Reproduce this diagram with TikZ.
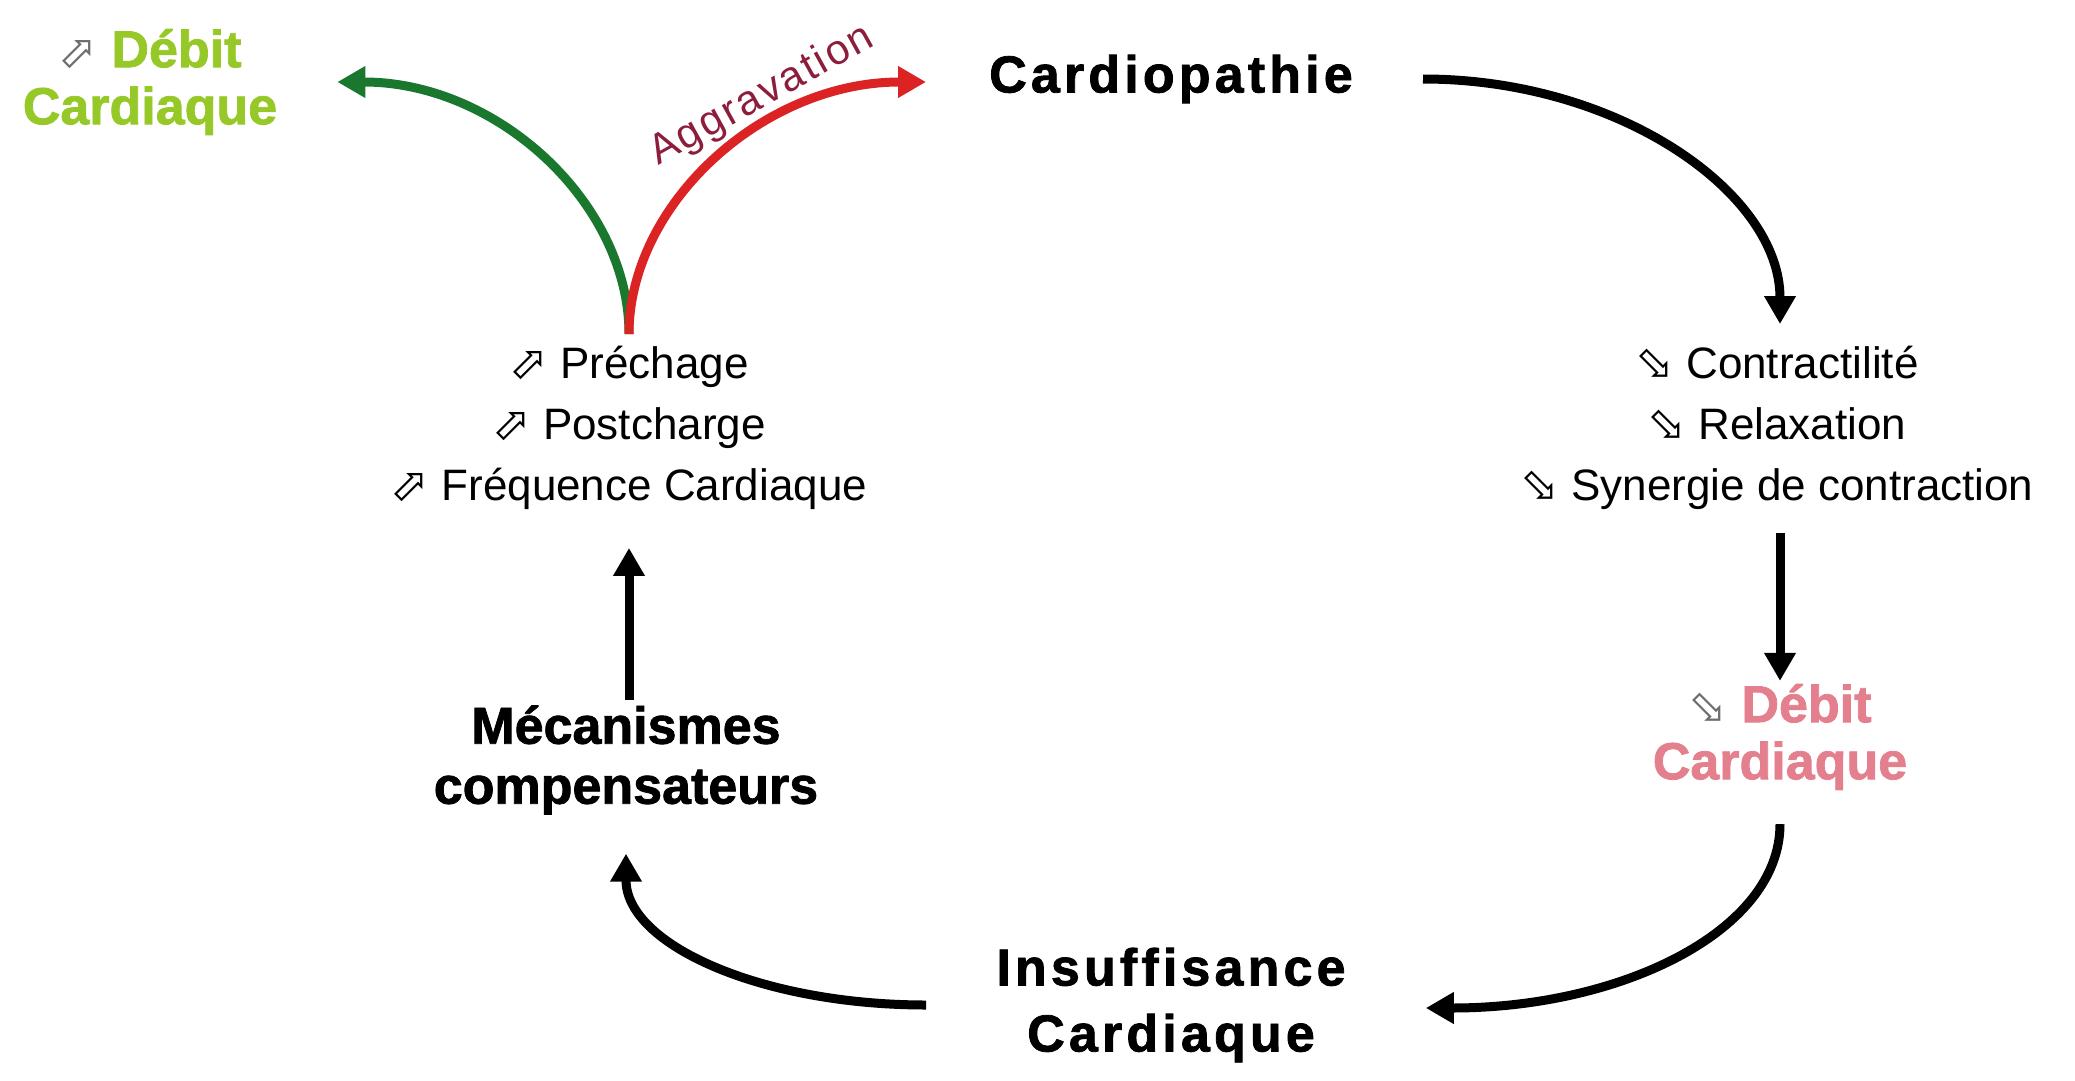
\documentclass[tikz,border=0pt]{standalone}
\usepackage{fontspec}
\setmainfont{Liberation Sans}
\newfontfamily\heavy{Liberation Sans Bold}[FakeBold=1.5]
\newfontfamily\heavysp{Liberation Sans Bold}[FakeBold=1.5,LetterSpace=8]
\newfontfamily\aggfont{Liberation Sans}[LetterSpace=6]
\newfontfamily\symf{DejaVu Sans}
\usetikzlibrary{arrows.meta}
\definecolor{limet}{RGB}{150,200,40}
\definecolor{dgreen}{RGB}{25,120,45}
\definecolor{ared}{RGB}{220,35,35}
\definecolor{aggcol}{RGB}{140,30,60}
\definecolor{pinkt}{RGB}{228,128,142}
\definecolor{symgray}{RGB}{110,110,110}
\newcommand\uparr[1][black]{{\color{#1}\symf\fontsize{46}{46}\selectfont ⬀}}
\newcommand\dnarr[1][black]{{\color{#1}\symf\fontsize{46}{46}\selectfont ⬂}}
\begin{document}
\begin{tikzpicture}[x=1pt,y=-1pt,
  reg/.style={font=\fontsize{44}{61}\selectfont, align=center, inner sep=0pt},
  bldsp/.style={font=\heavysp\fontsize{52}{66}\selectfont, align=center, inner sep=0pt},
  bld/.style={font=\heavy\fontsize{52}{60}\selectfont, align=center, inner sep=0pt},
  conn/.style={line width=9pt, -{Triangle[length=28pt,width=30pt]}},
  agg/.style={font=\aggfont\fontsize{42}{42}\selectfont, text=aggcol, inner sep=0pt}]
\useasboundingbox (0,0) rectangle (2075,1081);
% nodes
\node[bld, text=limet] (dcup) at (150,82) {\uparr[symgray]\ Débit\\[-3pt]Cardiaque};
\node[bldsp] (cardio) at (1171,79) {Cardiopathie};
\node[reg] (rlist) at (1777,428) {\dnarr\ Contractilité\\\dnarr\ Relaxation\\\dnarr\ Synergie de contraction};
\node[bld, text=pinkt] (dcdown) at (1780,737) {\dnarr[symgray]\ Débit\\[-3pt]Cardiaque};
\node[bldsp] (ic) at (1171,1005) {Insuffisance\\Cardiaque};
\node[bld] (meca) at (626,760) {Mécanismes\\compensateurs};
\node[reg] (llist) at (629,428) {\uparr\ Préchage\\\uparr\ Postcharge\\\uparr\ Fréquence Cardiaque};
\node[agg, rotate=29] (aggr) at (762,96) {Aggravation};
% connectors
\draw[conn] ([xshift=70pt]cardio.east) .. controls +(196,0) and +(0,-131) .. ([xshift=3pt,yshift=22pt]rlist.north);
\draw[conn] ([xshift=3pt,yshift=-23pt]rlist.south) -- ([yshift=3pt]dcdown.north);
\draw[conn] ([yshift=-34pt]dcdown.south) .. controls +(0,107) and +(195,0) .. ([xshift=80pt,yshift=-3pt]ic.east);
\draw[conn] ([xshift=-70pt]ic.west) .. controls +(-165,0) and +(0,91) .. ([yshift=-39pt]meca.south);
\draw[conn] ([xshift=3pt,yshift=5pt]meca.north) -- ([yshift=-38pt]llist.south);
\draw[conn, color=dgreen] ([yshift=12pt]llist.north) .. controls +(0,-130) and +(161,0) .. ([xshift=60pt]dcup.east);
\draw[conn, color=ared] ([yshift=12pt]llist.north) .. controls +(0,-130) and +(-163,0) .. ([xshift=-63pt,yshift=-3pt]cardio.west);
\end{tikzpicture}
\end{document}
